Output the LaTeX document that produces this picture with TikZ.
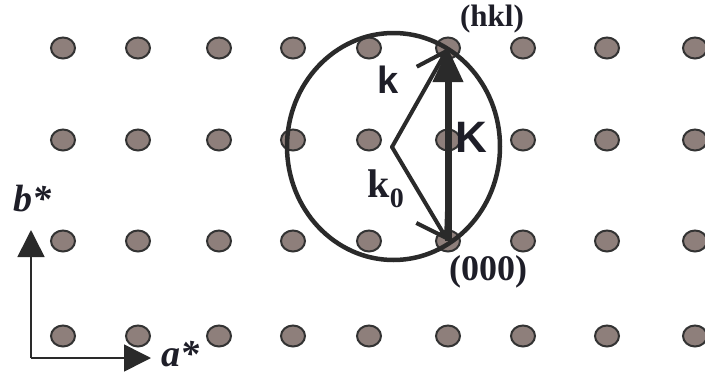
\documentclass[tikz,border=0pt]{standalone}
\usepackage{fontspec}
\setmainfont{Liberation Serif}
\newfontfamily\labsans{Liberation Sans}
\usetikzlibrary{arrows.meta,shapes.geometric}
\definecolor{dotfill}{HTML}{8E7F7B}
\definecolor{dotline}{HTML}{333333}
\definecolor{ink}{HTML}{2A2A2A}
\definecolor{txt}{HTML}{1E1E28}
\tikzset{
  lattice/.style={ellipse, draw=dotline, fill=dotfill, line width=2pt, minimum width=24pt, minimum height=21pt, inner sep=0pt},
  axisline/.style={draw=ink, line width=1.6pt, -{Triangle[length=27pt,width=27pt]}},
  vecline/.style={draw=ink, line width=4pt, line cap=round, -{Straight Barb[length=28pt,width=36pt,line width=4pt]}},
  bigvec/.style={draw=ink, line width=7pt, -{Triangle[length=34pt,width=29pt]}},
  ewald/.style={draw=ink, line width=4.5pt},
  serlab/.style={text=txt, font=\bfseries\fontsize{31}{31}\selectfont, inner sep=0pt},
  sanslab/.style={text=txt, font=\labsans\bfseries\fontsize{38}{38}\selectfont, inner sep=0pt},
  axlab/.style={text=txt, font=\bfseries\itshape\fontsize{38}{38}\selectfont, inner sep=0pt}
}
\begin{document}
\begin{tikzpicture}[x=1pt,y=-1pt]
\useasboundingbox (0,0) rectangle (705,378);
% lattice points
\foreach \r/\yy in {1/48,2/140,3/241,4/336}{
  \foreach \c/\xx in {1/63,2/138,3/219,4/293,5/369,6/448,7/523,8/607,9/695}{
    \node[lattice] (d\r\c) at (\xx,\yy) {};
  }
}
% Ewald circle
\draw[ewald] (393.5,146.5) ellipse [x radius=106.5, y radius=113.5];
\coordinate (ctr) at (392,147);
% vectors
\draw[bigvec] (d36.center) -- (d16.center);
\draw[vecline] (ctr) -- (d36.center);
\draw[vecline] (ctr) -- (d16.center);
% labels
\node[serlab] (hkl) at (492,19) {(hkl)};
\node[serlab, font=\bfseries\fontsize{36}{36}\selectfont] (zero) at (488,272) {(000)};
\node[sanslab] (klab) at (388,80) {k};
\node[sanslab, font=\labsans\bfseries\fontsize{44}{44}\selectfont] (Klab) at (471,137) {K};
\node[serlab, font=\bfseries\fontsize{40}{40}\selectfont] (k0lab) at (386,189) {k\textsubscript{0}};
% axes
\coordinate (orig) at (31,358);
\coordinate (btip) at (31,230);
\coordinate (atip) at (151,358);
\draw[axisline] (orig) -- (btip);
\draw[axisline] (orig) -- (atip);
\node[axlab] (blab) at (32,199) {b*};
\node[axlab] (alab) at (180,354) {a*};
\end{tikzpicture}
\end{document}
